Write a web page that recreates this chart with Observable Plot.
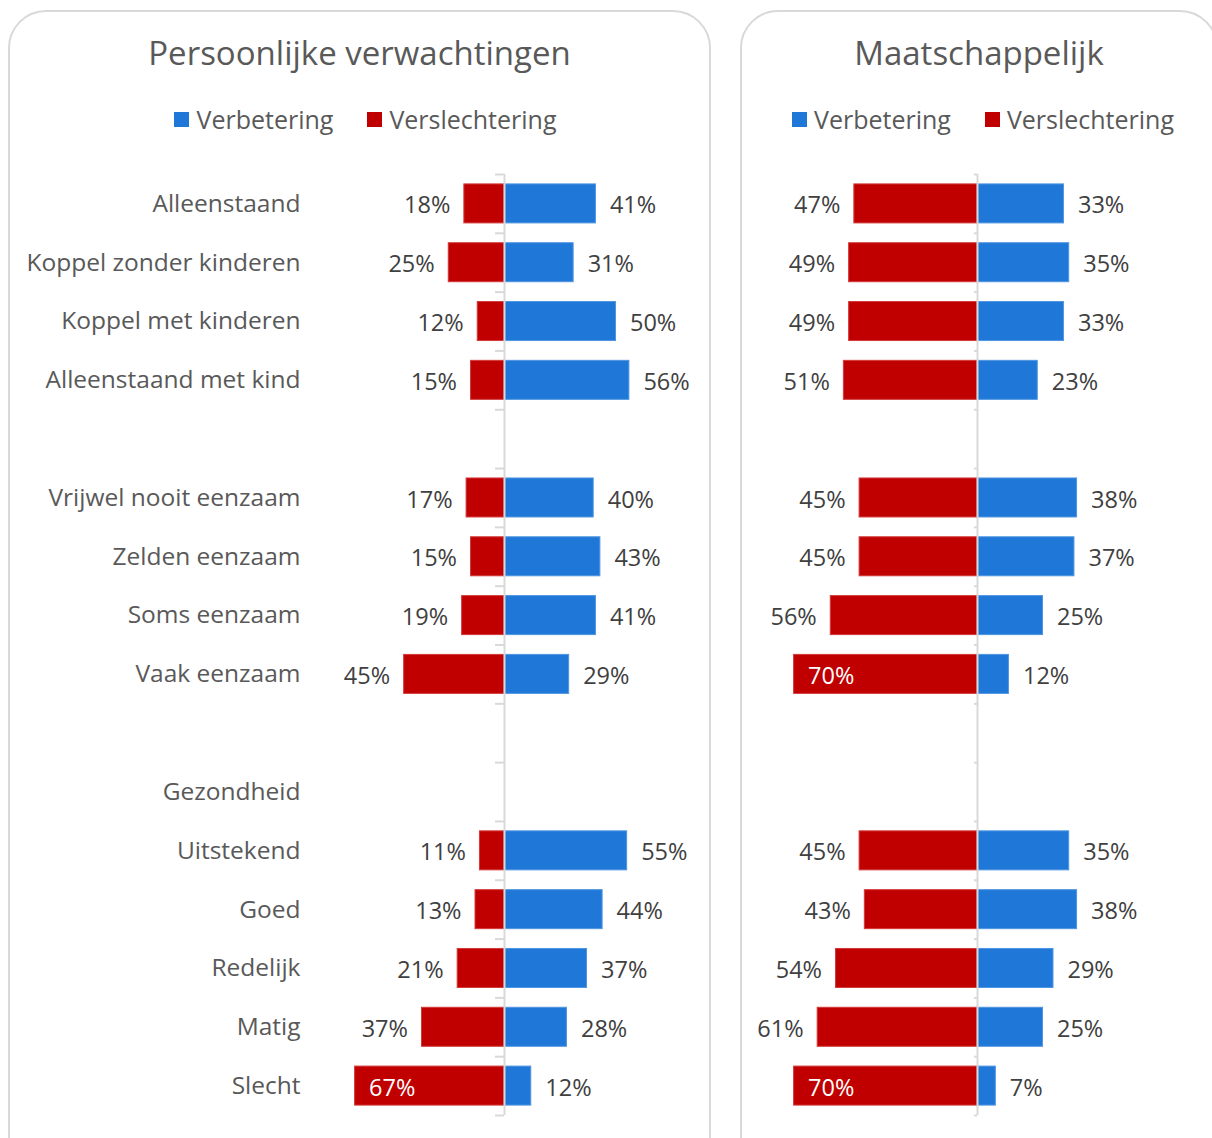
<!DOCTYPE html>
<html>
<head>
<meta charset="utf-8">
<script src="https://cdn.jsdelivr.net/npm/d3@7"></script>
<script src="https://cdn.jsdelivr.net/npm/@observablehq/plot@0.6"></script>
<style>
  html, body { margin: 0; padding: 0; background: #fff; }
  #wrap { position: relative; width: 1212px; height: 1138px; overflow: hidden; font-family: "Open Sans", Lato, sans-serif; }
  .panel { position: absolute; top: 10px; height: 1170px; box-sizing: border-box; border: 2px solid #d9d9d9; border-radius: 38px; background: #fff; }
  .title { position: absolute; left: 0; right: 0; top: 18px; height: 46px; line-height: 46px; text-align: center; font-size: 33px; color: #595959; }
  .legend { position: absolute; left: 0; right: 0; top: 92px; height: 30px; line-height: 30px; display: flex; justify-content: center; gap: 34px; font-size: 25px; color: #595959; }
  .legend span.item { display: inline-flex; align-items: center; gap: 7px; }
  .legend span.sw { display: inline-block; width: 15px; height: 15px; }
  .plot { position: absolute; top: 150px; }
  .plot svg { display: block; max-width: none; }
</style>
</head>
<body>
<div id="wrap">
  <div class="panel" id="pl" style="left:8px; width:703px;">
    <div class="title">Persoonlijke verwachtingen</div>
    <div class="legend" id="legL" style="padding-left:12px;"></div>
  </div>
  <div class="panel" id="pr" style="left:740px; width:478px;">
    <div class="title">Maatschappelijk</div>
    <div class="legend" id="legR" style="padding-left:8px;"></div>
  </div>
  <div class="plot" id="plotL" style="left:0px;"></div>
  <div class="plot" id="plotR" style="left:740px;"></div>
</div>
<script>
// ---- Data ----
const rows = ["Alleenstaand", "Koppel zonder kinderen", "Koppel met kinderen", "Alleenstaand met kind", "gap1",
  "Vrijwel nooit eenzaam", "Zelden eenzaam", "Soms eenzaam", "Vaak eenzaam", "gap2",
  "Gezondheid", "Uitstekend", "Goed", "Redelijk", "Matig", "Slecht"];
const categories = ["Alleenstaand", "Koppel zonder kinderen", "Koppel met kinderen", "Alleenstaand met kind",
  "Vrijwel nooit eenzaam", "Zelden eenzaam", "Soms eenzaam", "Vaak eenzaam",
  "Uitstekend", "Goed", "Redelijk", "Matig", "Slecht"];
const personalImprove = [41, 31, 50, 56, 40, 43, 41, 29, 55, 44, 37, 28, 12];
const personalWorse   = [18, 25, 12, 15, 17, 15, 19, 45, 11, 13, 21, 37, 67];
const societalImprove = [33, 35, 33, 23, 38, 37, 25, 12, 35, 38, 29, 25, 7];
const societalWorse   = [47, 49, 49, 51, 45, 45, 56, 70, 45, 43, 54, 61, 70];
const seriesNames = ["Verbetering", "Verslechtering"];

const BLUE = "#1f78d8", RED = "#c00000";
const colors = [BLUE, RED];

function legend(el) {
  el.innerHTML = seriesNames.map((n, i) =>
    `<span class="item"><span class="sw" style="background:${colors[i]}"></span>${n}</span>`).join("");
}
legend(document.getElementById("legL"));
legend(document.getElementById("legR"));

const H = 988, MT = 24, MB = 23;
const step = (H - MT - MB) / rows.length;
const inset = (step - 39) / 2;

function makePlot({improve, worse, width, zero, pxPer, marginLeft, showAxis, tickPx}) {
  const data = categories.map((c, i) => ({cat: c, improve: improve[i], worse: worse[i]}));
  const tickU = tickPx / pxPer;
  const marks = [
    Plot.barX(data, {y: "cat", x1: 0, x2: "improve", fill: BLUE, stroke: "#4f95e0", strokeWidth: 1, insetTop: inset, insetBottom: inset}),
    Plot.barX(data, {y: "cat", x1: d => -d.worse, x2: 0, fill: RED, stroke: "#d23a3a", strokeWidth: 1, insetTop: inset, insetBottom: inset}),
    Plot.ruleX([0], {stroke: "#d9d9d9", strokeWidth: 2}),
    Plot.ruleY(rows, {y: d => d, x1: -tickU, x2: 0, dy: -step / 2, stroke: "#d9d9d9", strokeWidth: 2}),
    Plot.ruleY([rows[rows.length - 1]], {y: d => d, x1: -tickU, x2: 0, dy: step / 2, stroke: "#d9d9d9", strokeWidth: 2}),
    Plot.text(data, {y: "cat", x: "improve", text: d => d.improve + "%", textAnchor: "start", dx: 14, dy: 2, fill: "#404040"}),
    Plot.text(data.filter(d => d.worse < 65), {y: "cat", x: d => -d.worse, text: d => d.worse + "%", textAnchor: "end", dx: -14, dy: 2, fill: "#404040"}),
    Plot.text(data.filter(d => d.worse >= 65), {y: "cat", x: d => -d.worse, text: d => d.worse + "%", textAnchor: "start", dx: 14, dy: 2, fill: "#ffffff"})
  ];
  if (showAxis) {
    marks.push(Plot.axisY({tickSize: 0, tickPadding: 10, label: null, fill: "#595959", fontSize: 24.5, tickFormat: d => d.startsWith("gap") ? "" : d}));
  }
  return Plot.plot({
    width, height: H,
    marginTop: MT, marginBottom: MB, marginLeft, marginRight: 0,
    x: {domain: [-100, 100], range: [zero - 100 * pxPer, zero + 100 * pxPer], axis: null},
    y: {domain: rows, paddingInner: 0, paddingOuter: 0, round: false, axis: null, label: null},
    style: {fontFamily: "'Open Sans', Lato, sans-serif", fontSize: "23.5px", background: "transparent", overflow: "visible"},
    marks
  });
}

document.getElementById("plotL").append(makePlot({
  improve: personalImprove, worse: personalWorse, width: 712, zero: 504, pxPer: 2.23,
  marginLeft: 310, showAxis: true, tickPx: 9
}));
document.getElementById("plotR").append(makePlot({
  improve: societalImprove, worse: societalWorse, width: 472, zero: 237, pxPer: 2.62,
  marginLeft: 10, showAxis: false, tickPx: 3
}));
</script>
</body>
</html>
